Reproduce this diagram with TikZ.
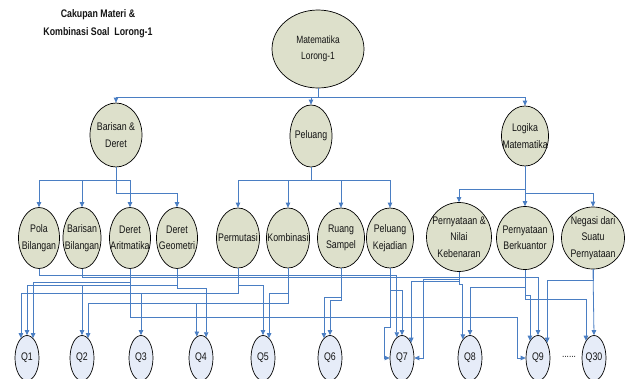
\documentclass[tikz,border=0pt]{standalone}
\usepackage{fontspec}
\setmainfont{Liberation Sans}[FakeStretch=0.8,BoldFont=* Bold]
\usetikzlibrary{shapes.geometric,arrows.meta}

\definecolor{topicfill}{RGB}{221,224,203}
\definecolor{qfill}{RGB}{230,236,248}
\definecolor{wire}{RGB}{74,126,195}
\definecolor{ink}{RGB}{20,20,20}

% connector from a topic down a bus level into a question
\newcommand\wirelink[3]{\draw[link] (#1.south) |- (#2 -| #3) -- (#3);}

\begin{document}
\begin{tikzpicture}[x=1pt,y=-1pt,
  topic/.style={ellipse,draw=black,line width=0.7pt,fill=topicfill,inner sep=0pt},
  qnode/.style={ellipse,draw=black,line width=0.7pt,fill=qfill,inner sep=0pt,
    minimum width=24pt,minimum height=45pt,font=\fontsize{11}{12}\selectfont,text=ink},
  lbl/.style={align=center,font=\fontsize{11}{16.5}\selectfont,text=ink,inner sep=0pt},
  link/.style={draw=wire,line width=0.8pt,-{Triangle[width=4.5pt,length=5pt]}},
]
\useasboundingbox (0,0) rectangle (629,378);

% heading
\node[align=center,font=\fontsize{11}{18}\selectfont\bfseries,text=ink] (title) at (98,24)
  {Cakupan Materi \&\\Kombinasi Soal\ \ Lorong-1};

% root
\node[topic,minimum width=92pt,minimum height=78pt,
  label={[lbl,font=\fontsize{10.5}{16}\selectfont]center:Matematika\\Lorong-1}] (root) at (318,49) {};

% main topics
\node[topic,minimum width=52pt,minimum height=64pt,label={[lbl]center:Barisan \&\\Deret}] (bd) at (116,135) {};
\node[topic,minimum width=42pt,minimum height=62pt,label={[lbl]center:Peluang}] (pl) at (311,136) {};
\node[topic,minimum width=47pt,minimum height=60pt,label={[lbl]center:Logika\\Matematika}] (lm) at (525,136) {};

% sub topics
\node[topic,minimum width=41pt,minimum height=61pt,label={[lbl]center:Pola\\Bilangan}] (pb) at (39,238) {};
\node[topic,minimum width=38pt,minimum height=61pt,label={[lbl]center:Barisan\\Bilangan}] (bb) at (82,238) {};
\node[topic,minimum width=41pt,minimum height=61pt,label={[lbl]center:Deret\\Aritmatika}] (da) at (130,238) {};
\node[topic,minimum width=41pt,minimum height=61pt,label={[lbl]center:Deret\\Geometri}] (dg) at (177,238) {};
\node[topic,minimum width=43pt,minimum height=60pt,label={[lbl]center:Permutasi}] (pm) at (238,238) {};
\node[topic,minimum width=43pt,minimum height=60pt,label={[lbl]center:Kombinasi}] (kb) at (288,238) {};
\node[topic,minimum width=47pt,minimum height=60pt,label={[lbl]center:Ruang\\Sampel}] (rs) at (341,238) {};
\node[topic,minimum width=47pt,minimum height=60pt,label={[lbl]center:Peluang\\Kejadian}] (pk) at (390,238) {};
\node[topic,minimum width=65pt,minimum height=69pt,label={[lbl]center:Pernyataan \&\\Nilai\\Kebenaran}] (pn) at (459,237) {};
\node[topic,minimum width=57pt,minimum height=63pt,label={[lbl]center:Pernyataan\\Berkuantor}] (pbk) at (525,238) {};
\node[topic,minimum width=63pt,minimum height=62pt,label={[lbl]center:Negasi dari\\Suatu\\Pernyataan}] (ng) at (593,238) {};

% questions
\node[qnode] (q1) at (27,358) {Q1};
\node[qnode] (q2) at (82,358) {Q2};
\node[qnode] (q3) at (141,358) {Q3};
\node[qnode] (q4) at (201,358) {Q4};
\node[qnode] (q5) at (263,358) {Q5};
\node[qnode] (q6) at (330,358) {Q6};
\node[qnode] (q7) at (402,358) {Q7};
\node[qnode] (q8) at (470,358) {Q8};
\node[qnode] (q9) at (538,358) {Q9};
\node[qnode] (q30) at (594,358) {Q30};
\node[font=\fontsize{10.5}{12}\selectfont,text=ink] (dots) at (569,357) {......};

% bus levels
\coordinate (L1) at (0,97);
\coordinate (L2) at (0,180);
\coordinate (L2c) at (0,189);
\coordinate (L2b) at (0,193);
\foreach \h in {275,277,279,280,281,282,284,285,287,288,290,293,295,297,299,300,303}
  \coordinate (h\h) at (0,\h);

% root to main topics
\draw[link] (root.south) |- (L1 -| bd.north) -- (bd.north);
\draw[link] (root.south) |- (L1 -| pl.north) -- (pl.north);
\draw[link] (root.south) |- (L1 -| lm.north) -- (lm.north);

% main topics to sub topics
\draw[link] (bd.south) |- (L2 -| pb.north) -- (pb.north);
\draw[link] (bd.south) |- (L2 -| bb.north) -- (bb.north);
\draw[link] (bd.south) |- (L2 -| da.north) -- (da.north);
\draw[link] (bd.south) |- (L2b -| dg.north) -- (dg.north);
\draw[link] (pl.south) |- (L2 -| pm.north) -- (pm.north);
\draw[link] (pl.south) |- (L2 -| kb.north) -- (kb.north);
\draw[link] (pl.south) |- (L2 -| rs.north) -- (rs.north);
\draw[link] (pl.south) |- (L2 -| pk.north) -- (pk.north);
\draw[link] (lm.south) |- (L2c -| pn.north) -- (pn.north);
\draw[link] (lm.south) -- (pbk.north);
\draw[link] (lm.south) |- (L2b -| ng.north) -- (ng.north);

% sub topics to questions
\wirelink{pb}{h275}{q7.104}
\wirelink{bb}{h277}{q9.north}
\wirelink{da}{h282}{q1.73}
\wirelink{dg}{h285}{q1.north}
\wirelink{dg}{h285}{q2.north}
\wirelink{dg}{h288}{q4.76}
\wirelink{pm}{h293}{q1.107}
\wirelink{pm}{h293}{q3.north}
\wirelink{pm}{h285}{q5.north}
\wirelink{kb}{h303}{q2.73}
\wirelink{kb}{h303}{q4.101}
\wirelink{kb}{h293}{q5.73}
\wirelink{rs}{h297}{q6.107}
\wirelink{rs}{h300}{q6.north}
\wirelink{pk}{h290}{q7.north}
\wirelink{pn}{h281}{q7.59}
\wirelink{pn}{h284}{q8.111}
\wirelink{pbk}{h287}{q8.north}
\wirelink{pbk}{h295}{q9.115}
\wirelink{pbk}{h299}{q30.115}
\wirelink{ng}{h280}{q9.59}
\draw[link] (ng.south) -- (q30.north);

% side entries
\coordinate (s7) at (384,327);
\coordinate (k7) at (423,279);
\coordinate (k9) at (517,317);
\draw[link] (pk.south) |- (s7) |- (q7.west);
\draw[link] (pn.south) |- (k7) |- (q7.east);
\draw[link] (da.south) |- (k9) |- (q9.west);
\end{tikzpicture}
\end{document}
